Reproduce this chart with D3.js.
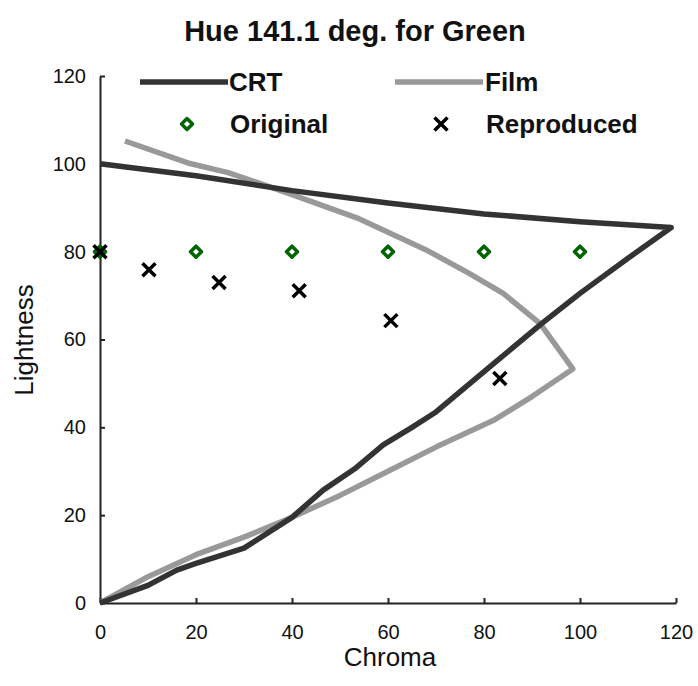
<!DOCTYPE html>
<html>
<head>
<meta charset="utf-8">
<script src="https://cdn.jsdelivr.net/npm/d3@7"></script>
<style>
  body { margin: 0; background: #fff; }
  text { font-family: "Liberation Sans", Arial, sans-serif; }
</style>
</head>
<body>
<svg id="chart" width="698" height="686"></svg>
<script>
// CRT gamut boundary (upper edge then lower edge)
const crtChroma = [0, 20, 40, 60, 80, 100, 119, 110, 100, 92, 82, 70, 65, 59, 53, 46.5, 40, 30, 20, 16, 10, 0];
const crtLight  = [100, 97.3, 93.9, 91.1, 88.6, 86.8, 85.5, 78.5, 70.5, 63.6, 54.5, 43.5, 40, 36, 30.5, 25.7, 19.5, 12.5, 9, 7.5, 4, 0];

// Film gamut boundary
const filmChroma = [5.2, 18.3, 26.7, 39, 53.5, 68.3, 77, 84, 91.7, 98.5, 90, 82, 70, 60, 50, 40, 30, 20, 10, 0];
const filmLight  = [105.2, 100.2, 98, 93.4, 87.7, 80.2, 75, 70.5, 63.6, 53.3, 47, 41.6, 35.5, 30, 24.5, 19.5, 15, 11, 6, 0];

// colour samples
const origChroma = [0, 20, 40, 60, 80, 100];
const origLight  = [80, 80, 80, 80, 80, 80];
const reprChroma = [0, 10.2, 24.8, 41.5, 60.6, 83.3];
const reprLight  = [80, 75.9, 73, 71.1, 64.3, 51.1];

const xTicks = [0, 20, 40, 60, 80, 100, 120];
const yTicks = [0, 20, 40, 60, 80, 100, 120];

const margin = {top: 76, left: 100, right: 22, bottom: 83};
const svg = d3.select("#chart");
const width = 698 - margin.left - margin.right;
const height = 686 - margin.top - margin.bottom;

const x = d3.scaleLinear().domain([0, 120]).range([0, width]);
const y = d3.scaleLinear().domain([0, 120]).range([height, 0]);

const g = svg.append("g")
  .attr("transform", `translate(${margin.left},${margin.top})`);

// axes
const xAxis = g.append("g")
  .attr("transform", `translate(0,${height})`)
  .call(d3.axisBottom(x).tickValues(xTicks).tickSizeInner(-5).tickSizeOuter(0).tickPadding(22));
const yAxis = g.append("g")
  .call(d3.axisLeft(y).tickValues(yTicks).tickSizeInner(-5).tickSizeOuter(0).tickPadding(14));

[xAxis, yAxis].forEach(a => {
  a.select(".domain").attr("stroke", "#222").attr("stroke-width", 2);
  a.selectAll(".tick line").attr("stroke", "#222").attr("stroke-width", 2);
  a.selectAll(".tick text")
    .attr("font-size", 20)
    .attr("fill", "#111")
    .style("font-family", "'Liberation Sans', Arial, sans-serif");
});

const line = d3.line()
  .x(d => x(d[0]))
  .y(d => y(d[1]));

const crt = crtChroma.map((c, i) => [c, crtLight[i]]);
const film = filmChroma.map((c, i) => [c, filmLight[i]]);

g.append("path")
  .datum(film)
  .attr("d", line)
  .attr("fill", "none")
  .attr("stroke", "#999")
  .attr("stroke-width", 5.5)
  .attr("stroke-linejoin", "round");

g.append("path")
  .datum(crt)
  .attr("d", line)
  .attr("fill", "none")
  .attr("stroke", "#333")
  .attr("stroke-width", 5.5)
  .attr("stroke-linejoin", "round");

// markers
function diamond(sel, cx, cy) {
  const r = 5.5;
  sel.append("path")
    .attr("d", `M${cx},${cy - r} L${cx + r},${cy} L${cx},${cy + r} L${cx - r},${cy} Z`)
    .attr("fill", "none")
    .attr("stroke", "#006400")
    .attr("stroke-width", 3.5)
    .attr("stroke-linejoin", "round");
}
function cross(sel, cx, cy) {
  const r = 6.5;
  sel.append("path")
    .attr("d", `M${cx - r},${cy - r} L${cx + r},${cy + r} M${cx - r},${cy + r} L${cx + r},${cy - r}`)
    .attr("stroke", "#000")
    .attr("stroke-width", 3.5);
}

origChroma.forEach((c, i) => diamond(g, x(c), y(origLight[i])));
reprChroma.forEach((c, i) => cross(g, x(c), y(reprLight[i])));

// legend
const leg = svg.append("g");
leg.append("line").attr("x1", 140).attr("x2", 228).attr("y1", 82).attr("y2", 82)
  .attr("stroke", "#333").attr("stroke-width", 5.5);
leg.append("line").attr("x1", 395).attr("x2", 483).attr("y1", 82).attr("y2", 82)
  .attr("stroke", "#999").attr("stroke-width", 5.5);
diamond(leg, 187, 124);
cross(leg, 441, 124);
const legText = [["CRT", 229, 91], ["Film", 485, 91], ["Original", 230, 133], ["Reproduced", 486, 133]];
legText.forEach(t => {
  leg.append("text").attr("x", t[1]).attr("y", t[2])
    .attr("font-size", 26).attr("font-weight", "bold").attr("fill", "#111")
    .text(t[0]);
});

// title and axis labels
svg.append("text")
  .attr("x", 355).attr("y", 41)
  .attr("text-anchor", "middle")
  .attr("font-size", 29).attr("font-weight", "bold").attr("fill", "#111")
  .text("Hue 141.1 deg. for Green");

svg.append("text")
  .attr("x", 390).attr("y", 666)
  .attr("text-anchor", "middle")
  .attr("font-size", 26).attr("fill", "#111")
  .text("Chroma");

svg.append("text")
  .attr("transform", "translate(33,340) rotate(-90)")
  .attr("text-anchor", "middle")
  .attr("font-size", 26).attr("fill", "#111")
  .text("Lightness");
</script>
</body>
</html>
